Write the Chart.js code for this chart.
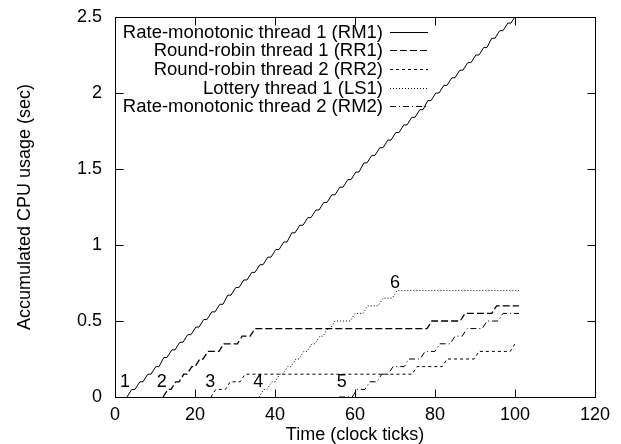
<!DOCTYPE html>
<html>
<head>
<meta charset="utf-8">
<script src="https://cdn.jsdelivr.net/npm/chart.js@4/dist/chart.umd.min.js"></script>
<style>
  html, body { margin: 0; padding: 0; background: #fff; }
</style>
</head>
<body>
<canvas id="cpu-chart" width="621" height="444"></canvas>
<script>
// Accumulated CPU usage per thread.
// Each thread: first tick, ticks where a run starts, usage (sec) after that run, last tick.
const RUN = 1.2; // length of one run in ticks (slanted riser)

const rm1Start = 3;
const rm1StepTicks = [3, 5, 7, 9, 11, 13, 15, 17, 19, 21, 23, 25, 27, 29, 31, 33, 35, 37, 39, 41,
    43, 45, 47, 49, 51, 53, 55, 57, 59, 61, 63, 65, 67, 69, 71, 73, 75, 77, 79, 81,
    83, 85, 87, 89, 91, 93, 95, 97, 99];
const rm1Levels = [0.05, 0.10, 0.15, 0.20, 0.26, 0.31, 0.36, 0.41, 0.46, 0.51,
    0.56, 0.61, 0.67, 0.72, 0.77, 0.82, 0.87, 0.92, 0.97, 1.02,
    1.08, 1.13, 1.18, 1.23, 1.28, 1.33, 1.38, 1.43, 1.48, 1.54,
    1.59, 1.64, 1.69, 1.74, 1.79, 1.84, 1.89, 1.95, 2.00, 2.05,
    2.10, 2.15, 2.20, 2.25, 2.30, 2.36, 2.41, 2.46, 2.51];
const rm1End = 101;

const rr1Start = 12;
const rr1StepTicks = [12, 14, 16, 18, 20, 22, 26, 30.6, 33.8, 78, 86.3, 94.2];
const rr1Levels = [0.05, 0.10, 0.15, 0.20, 0.25, 0.30, 0.35, 0.40, 0.45, 0.50, 0.55, 0.60];
const rr1End = 101;

const rr2Start = 24;
const rr2StepTicks = [24, 27.6, 31.3, 74.3, 81.8, 89.8, 98.8];
const rr2Levels = [0.05, 0.10, 0.15, 0.20, 0.25, 0.30, 0.35];
const rr2End = 100;

const ls1Start = 36;
const ls1StepTicks = [36, 38, 40, 42, 44, 46, 48, 50, 52, 53.8, 58.8, 62, 65.8, 69.3];
const ls1Levels = [0.05, 0.10, 0.15, 0.20, 0.25, 0.30, 0.35, 0.40, 0.45, 0.50, 0.55, 0.60, 0.65, 0.70];
const ls1End = 101;

const rm2Start = 56;
const rm2StepTicks = [59.3, 62.5, 65.5, 68.3, 72.3, 76.3, 80, 83.8, 86.8, 91.8, 95.8];
const rm2Levels = [0.05, 0.10, 0.15, 0.20, 0.25, 0.30, 0.35, 0.40, 0.45, 0.50, 0.55];
const rm2End = 101;

// numbered event markers
const markLabels = ['1', '2', '3', '4', '5', '6'];
const markTicks = [2.5, 11.7, 23.8, 35.8, 56.7, 70];
const markUsage = [0.10, 0.10, 0.10, 0.10, 0.10, 0.75];

const xTicks = [0, 20, 40, 60, 80, 100, 120];
const xTickLabels = ['0', '20', '40', '60', '80', '100', '120'];
const yTicks = [0, 0.5, 1, 1.5, 2, 2.5];
const yTickLabels = ['0', '0.5', '1', '1.5', '2', '2.5'];

const FONT = '"Liberation Sans", Arial, Helvetica, sans-serif';

function staircase(start, stepTicks, levels, end) {
    const pts = [{ x: start, y: 0 }];
    let prev = 0;
    stepTicks.forEach((t, i) => {
        if (t > pts[pts.length - 1].x) pts.push({ x: t, y: prev });
        pts.push({ x: t + RUN, y: levels[i] });
        prev = levels[i];
    });
    if (end > pts[pts.length - 1].x) pts.push({ x: end, y: prev });
    return pts;
}

function series(label, pts, dash, width) {
    return {
        label: label, data: pts,
        borderColor: '#000', borderWidth: width, borderDash: dash,
        pointRadius: 0, tension: 0, fill: false
    };
}

const data = {
    datasets: [
        series('Rate-monotonic thread 1 (RM1)', staircase(rm1Start, rm1StepTicks, rm1Levels, rm1End), [], 1),
        series('Round-robin thread 1 (RR1)', staircase(rr1Start, rr1StepTicks, rr1Levels, rr1End), [7, 3], 1.3),
        series('Round-robin thread 2 (RR2)', staircase(rr2Start, rr2StepTicks, rr2Levels, rr2End), [3, 3], 1),
        series('Lottery thread 1 (LS1)', staircase(ls1Start, ls1StepTicks, ls1Levels, ls1End), [1, 2], 1),
        series('Rate-monotonic thread 2 (RM2)', staircase(rm2Start, rm2StepTicks, rm2Levels, rm2End), [6, 3, 1, 3], 1)
    ]
};

// box, inward ticks, legend and event numbers (gnuplot look)
const framePlugin = {
    id: 'frame',
    afterDraw(chart) {
        const ctx = chart.ctx;
        const a = chart.chartArea;
        const xs = chart.scales.x, ys = chart.scales.y;
        const L = Math.round(a.left) + 0.5, R = Math.round(a.right) + 0.5;
        const T = Math.round(a.top) + 0.5, B = Math.round(a.bottom) + 0.5;
        const tk = 8;
        ctx.save();
        ctx.strokeStyle = '#000';
        ctx.lineWidth = 1;
        ctx.setLineDash([]);
        ctx.strokeRect(L, T, R - L, B - T);
        ctx.beginPath();
        xTicks.forEach(v => {
            const px = Math.round(xs.getPixelForValue(v)) + 0.5;
            ctx.moveTo(px, B); ctx.lineTo(px, B - tk);
            ctx.moveTo(px, T); ctx.lineTo(px, T + tk);
        });
        yTicks.forEach(v => {
            const py = Math.round(ys.getPixelForValue(v)) + 0.5;
            ctx.moveTo(L, py); ctx.lineTo(L + tk, py);
            ctx.moveTo(R, py); ctx.lineTo(R - tk, py);
        });
        ctx.stroke();

        // legend, text right aligned with the line sample to its right
        ctx.font = '18.5px ' + FONT;
        ctx.fillStyle = '#000';
        ctx.textAlign = 'right';
        ctx.textBaseline = 'alphabetic';
        chart.data.datasets.forEach((ds, i) => {
            const y = 37.5 + i * 18.7;
            ctx.fillText(ds.label, 383, y);
            ctx.beginPath();
            ctx.setLineDash(ds.borderDash);
            ctx.lineWidth = 1;
            ctx.moveTo(390, Math.round(y - 6) + 0.5);
            ctx.lineTo(428, Math.round(y - 6) + 0.5);
            ctx.stroke();
        });
        ctx.setLineDash([]);

        // event numbers
        ctx.font = '18px ' + FONT;
        ctx.textAlign = 'center';
        ctx.textBaseline = 'middle';
        markLabels.forEach((t, i) => {
            ctx.fillText(t, xs.getPixelForValue(markTicks[i]), ys.getPixelForValue(markUsage[i]));
        });
        ctx.restore();
    }
};

Chart.defaults.font.family = FONT;
Chart.defaults.font.size = 18;
Chart.defaults.color = '#000';

new Chart(document.getElementById('cpu-chart'), {
    type: 'line',
    data: data,
    options: {
        responsive: false,
        animation: false,
        layout: { padding: { top: 17, right: 26, left: 0, bottom: 0 } },
        plugins: { legend: { display: false }, tooltip: { enabled: false } },
        scales: {
            x: {
                type: 'linear', min: 0, max: 120,
                grid: { display: false, drawTicks: false },
                border: { display: false },
                afterBuildTicks: (axis) => { axis.ticks = xTicks.map(v => ({ value: v })); },
                afterFit: (axis) => { axis.height = 47; axis.paddingLeft = 0; axis.paddingRight = 0; },
                ticks: { padding: 7, maxRotation: 0, callback: (v, i) => xTickLabels[i] },
                title: { display: true, text: 'Time (clock ticks)', font: { size: 18, lineHeight: 1 }, padding: { top: 0, bottom: 0 } }
            },
            y: {
                type: 'linear', min: 0, max: 2.5,
                grid: { display: false, drawTicks: false },
                border: { display: false },
                afterBuildTicks: (axis) => { axis.ticks = yTicks.map(v => ({ value: v })); },
                afterFit: (axis) => { axis.width = 115; axis.paddingTop = 0; axis.paddingBottom = 0; },
                ticks: { padding: 13, callback: (v, i) => yTickLabels[i] },
                title: { display: true, text: 'Accumulated CPU usage (sec)', font: { size: 18, lineHeight: 1 }, padding: { top: 16, bottom: 0 } }
            }
        }
    },
    plugins: [framePlugin]
});
</script>
</body>
</html>
